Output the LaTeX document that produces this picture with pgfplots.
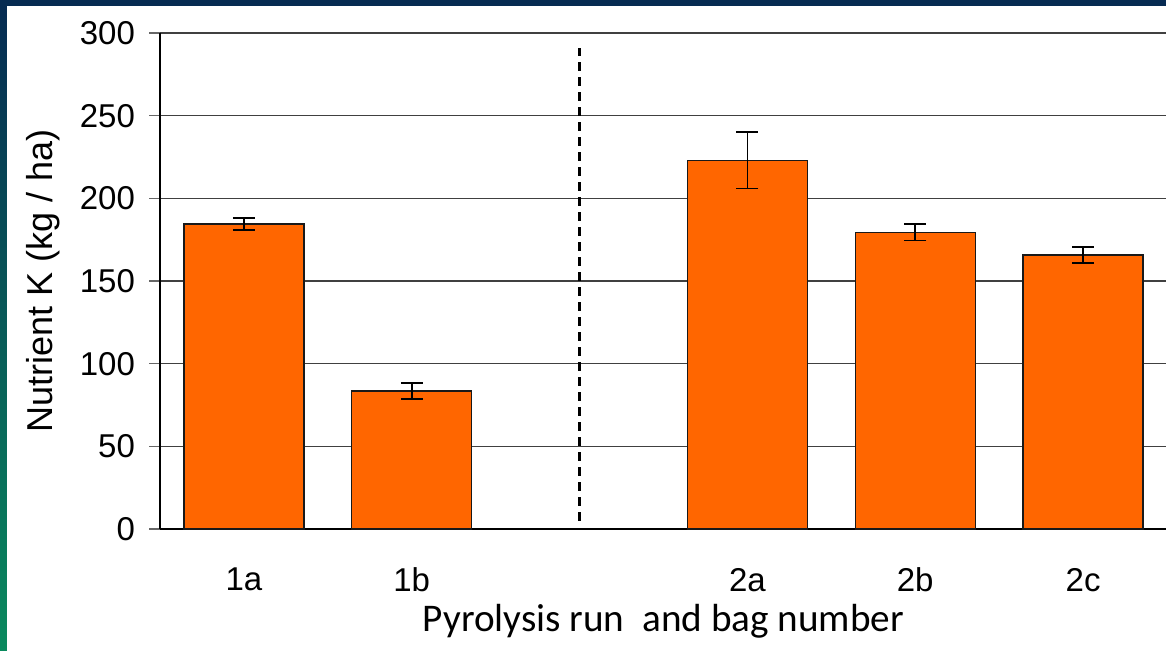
\documentclass[border=0pt]{standalone}
\usepackage{fontspec}
\setmainfont{Liberation Sans}
\newfontfamily\calib{Carlito}
\usepackage{pgfplots}
\pgfplotsset{compat=1.18}
\definecolor{navy}{HTML}{062B52}
\definecolor{slgreen}{HTML}{0A8A5E}
\definecolor{barorange}{HTML}{FF6600}
\begin{document}
\begin{tikzpicture}[x=1pt,y=1pt]
\useasboundingbox (0,0) rectangle (583,325.5);
\fill[navy] (0,0) rectangle (583,325.5);
\shade[top color=navy, bottom color=slgreen] (0,0) rectangle (3.6,322.5);
\fill[white] (3.6,0) rectangle (583,322.5);
\begin{axis}[
  at={(80pt,61pt)}, anchor=south west,
  scale only axis, width=503.5pt, height=248pt,
  xmin=-0.5, xmax=5.5, ymin=0, ymax=300,
  axis x line*=bottom, axis y line*=left,
  axis line style={line width=0.8pt, black, -},
  ytick={0,50,...,300},
  ymajorgrids, major grid style={color=black!75, line width=0.6pt},
  tick align=outside, major tick length=5.5pt,
  y tick style={color=black!60, line width=0.6pt},
  x tick style={draw=none},
  xtick={0,1,3,4,5}, xticklabels={1a,1b,2a,2b,2c},
  /pgf/number format/assume math mode=true,
  tick label style={font=\fontsize{16.5}{16.5}\selectfont},
  xticklabel style={yshift=-10.5pt},
  yticklabel style={xshift=-3.5pt},
  xlabel={\calib Pyrolysis run\ \ and bag number},
  xlabel style={font=\fontsize{19.6}{19.6}\selectfont, yshift=1pt},
  ylabel={Nutrient K (kg / ha)},
  ylabel style={font=\fontsize{18}{18}\selectfont, yshift=3pt},
  clip=false,
]
\addplot[ybar, bar width=60pt, fill=barorange, draw=black!90, line width=0.7pt,
  error bars/.cd, y dir=both, y explicit,
  error bar style={line width=0.9pt, black},
  error mark options={rotate=90, mark size=5.5pt, line width=0.9pt, black}]
  coordinates {
  (0,184.5) +- (0,3.8)
  (1,83.5) +- (0,5)
  (3,223) +- (0,17)
  (4,179.5) +- (0,5)
  (5,165.8) +- (0,5)
  };
\addplot[black, line width=1.3pt, dash pattern=on 4.5pt off 3pt] coordinates {(2,5) (2,291)};
\end{axis}
\end{tikzpicture}
\end{document}
